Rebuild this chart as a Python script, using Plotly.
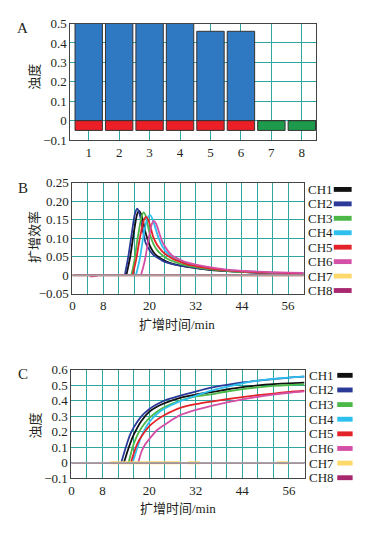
import plotly.graph_objects as go

W, H = 368, 533

# ---------------- data ----------------
channels = [1, 2, 3, 4, 5, 6, 7, 8]
turbidity_A = [0.51, 0.51, 0.50, 0.51, 0.46, 0.46, 0.0, 0.0]
indicator_A = [-0.05, -0.05, -0.05, -0.05, -0.05, -0.05, -0.05, -0.05]
result_A = ["pos", "pos", "pos", "pos", "pos", "pos", "neg", "neg"]

ch_names = ["CH1", "CH2", "CH3", "CH4", "CH5", "CH6", "CH7", "CH8"]
ch_colors = ["#111111", "#2b3a98", "#4cb848", "#2dc0ee", "#e3232a", "#d44fa6", "#fdd86a", "#a8286f"]

# Panel B: amplification efficiency
b_t = {
    "CH1": [14.0, 15, 16, 16.8, 17.3, 18, 19, 20, 21, 22, 24, 26, 28, 32, 36, 40, 44, 48, 52, 56, 60],
    "CH2": [13.6, 14.5, 15.5, 16.2, 16.8, 17.4, 18.2, 19, 20, 21, 22.3, 24, 26, 28, 32, 36, 40, 44, 48, 52, 56, 60],
    "CH3": [15.3, 16, 17, 18, 18.5, 19, 20, 21, 22, 23, 24, 26, 28, 32, 36, 40, 44, 48, 52, 56, 60],
    "CH4": [16.5, 17.5, 18.5, 19.5, 20.2, 20.8, 22.3, 23.5, 25, 27, 30, 32, 36, 40, 44, 48, 52, 56, 60],
    "CH5": [15.6, 16.5, 17.5, 18.5, 19.1, 19.7, 21, 22, 23.2, 24, 26, 27.5, 30, 32, 36, 40, 44, 48, 52, 56, 60],
    "CH6": [4.5, 5.5, 6.5, 7.0, 17.8, 18.8, 19.8, 20.6, 21.1, 21.7, 23.2, 24.5, 25.8, 28.4, 30, 32, 36, 40, 44, 48, 52, 56, 60],
    "CH7": [0, 60],
    "CH8": [0, 60],
}
b_y = {
    "CH1": [0, 0.05, 0.12, 0.165, 0.174, 0.16, 0.115, 0.082, 0.063, 0.052, 0.039, 0.031, 0.026, 0.019, 0.014, 0.011, 0.009, 0.007, 0.006, 0.005, 0.004],
    "CH2": [0, 0.05, 0.12, 0.165, 0.18, 0.168, 0.125, 0.088, 0.068, 0.055, 0.046, 0.036, 0.030, 0.026, 0.02, 0.015, 0.012, 0.009, 0.007, 0.006, 0.005, 0.004],
    "CH3": [0, 0.035, 0.105, 0.16, 0.17, 0.162, 0.115, 0.085, 0.068, 0.057, 0.049, 0.038, 0.031, 0.022, 0.016, 0.012, 0.009, 0.008, 0.006, 0.005, 0.005],
    "CH4": [0, 0.045, 0.11, 0.155, 0.163, 0.152, 0.103, 0.075, 0.056, 0.042, 0.031, 0.026, 0.019, 0.014, 0.011, 0.009, 0.007, 0.006, 0.005],
    "CH5": [0, 0.04, 0.1, 0.148, 0.158, 0.15, 0.103, 0.082, 0.066, 0.058, 0.045, 0.038, 0.029, 0.025, 0.018, 0.013, 0.01, 0.008, 0.007, 0.006, 0.005],
    "CH6": [-0.003, -0.003, -0.002, None, 0, 0.04, 0.1, 0.138, 0.147, 0.14, 0.094, 0.07, 0.054, 0.04, 0.034, 0.029, 0.021, 0.015, 0.012, 0.01, 0.008, 0.007, 0.006],
    "CH7": [0, 0],
    "CH8": [0, 0],
}

# Panel C: turbidity curves
c_t = {
    "CH1": [13.5, 14.5, 15.5, 16, 18, 20, 22, 24, 28, 32, 36, 40, 44, 48, 52, 56, 60],
    "CH2": [12.8, 14, 15, 16, 18, 20, 22, 24, 28, 32, 36, 40, 44, 48, 52, 56, 60],
    "CH3": [14.7, 15.5, 16, 17, 18, 20, 22, 24, 28, 32, 36, 40, 44, 48, 52, 56, 60],
    "CH4": [15.75, 16.5, 17, 18, 20, 22, 24, 28, 32, 36, 40, 44, 48, 52, 56, 60],
    "CH5": [15.3, 16, 17, 18, 20, 22, 24, 28, 32, 36, 40, 44, 48, 52, 56, 60],
    "CH6": [17.2, 18, 19, 20, 22, 24, 26, 28, 32, 36, 40, 44, 48, 52, 56, 60],
    "CH7": [10, 28, 29, 30, 33, 34, 53, 55.6],
    "CH8": [0, 60],
}
c_y = {
    "CH1": [0, 0.08, 0.15, 0.18, 0.27, 0.329, 0.362, 0.385, 0.419, 0.44, 0.456, 0.473, 0.488, 0.499, 0.507, 0.513, 0.517],
    "CH2": [0, 0.1, 0.175, 0.227, 0.30, 0.346, 0.378, 0.402, 0.433, 0.46, 0.485, 0.503, 0.518, 0.53, 0.54, 0.55, 0.556],
    "CH3": [0, 0.08, 0.12, 0.18, 0.225, 0.288, 0.33, 0.36, 0.402, 0.428, 0.442, 0.46, 0.475, 0.487, 0.496, 0.502, 0.506],
    "CH4": [0, 0.06, 0.1, 0.17, 0.262, 0.315, 0.35, 0.398, 0.433, 0.465, 0.49, 0.513, 0.53, 0.541, 0.55, 0.558],
    "CH5": [0, 0.058, 0.125, 0.17, 0.235, 0.277, 0.308, 0.354, 0.378, 0.395, 0.41, 0.424, 0.437, 0.447, 0.457, 0.465],
    "CH6": [0, 0.07, 0.12, 0.152, 0.21, 0.246, 0.28, 0.308, 0.342, 0.367, 0.39, 0.41, 0.426, 0.44, 0.452, 0.461],
    "CH7": [0, 0, None, 0, 0, None, 0, 0],
    "CH8": [0, 0],
}

time_ticks = [0, 8, 20, 32, 44, 56]
time_grid = list(range(0, 61, 4))
yA_ticks = [-0.1, 0, 0.1, 0.2, 0.3, 0.4, 0.5]
yA_text = ["\u22120.1", "0", "0.1", "0.2", "0.3", "0.4", "0.5"]
yB_ticks = [-0.05, 0, 0.05, 0.10, 0.15, 0.20, 0.25]
yB_text = ["\u22120.05", "0", "0.05", "0.10", "0.15", "0.20", "0.25"]
yC_ticks = [-0.1, 0, 0.1, 0.2, 0.3, 0.4, 0.5, 0.6]
yC_text = ["\u22120.1", "0", "0.1", "0.2", "0.3", "0.4", "0.5", "0.6"]

# ---------------- style ----------------
SERIF = "Liberation Serif, Times New Roman, Noto Sans CJK SC, serif"
TXT = "#231f20"
GRID = "#2fa6a4"
FRAME = "#444444"
ZERO = "#a3a3a3"

def px(x):
    return x / W

def py(y):
    return 1 - y / H

fig = go.Figure()

# Panel A bars
fig.add_trace(go.Bar(x=channels, y=turbidity_A, xaxis="x", yaxis="y", width=0.9,
                     marker=dict(color="#2f78c2", line=dict(color="#333333", width=1)),
                     showlegend=False))
res_colors = {"pos": "#ec1f27", "neg": "#1d9a4b"}
fig.add_trace(go.Bar(x=channels, y=indicator_A, xaxis="x", yaxis="y", width=0.9,
                     marker=dict(color=[res_colors[r] for r in result_A], line=dict(color="#333333", width=1)),
                     showlegend=False))

# Panel B and C lines
for name, col in zip(ch_names, ch_colors):
    fig.add_trace(go.Scatter(x=b_t[name], y=b_y[name], xaxis="x2", yaxis="y2", mode="lines",
                             line=dict(color=col, width=1.8, shape="spline", smoothing=0.7),
                             connectgaps=False, showlegend=False, name=name))
for name, col in zip(ch_names, ch_colors):
    w = 3 if name == "CH7" else 1.8
    fig.add_trace(go.Scatter(x=c_t[name], y=c_y[name], xaxis="x3", yaxis="y3", mode="lines",
                             line=dict(color=col, width=w, shape="spline", smoothing=0.7),
                             connectgaps=False, showlegend=False, name=name))

axis_common = dict(showline=True, linecolor=FRAME, linewidth=1, mirror=True, ticks="", ticklen=0,
                   showgrid=True, gridcolor=GRID, gridwidth=1, zeroline=False,
                   tickfont=dict(family=SERIF, size=13, color=TXT))

fig.update_layout(
    width=W, height=H, autosize=False,
    margin=dict(l=0, r=0, t=0, b=0),
    paper_bgcolor="white", plot_bgcolor="white",
    barmode="overlay",
    xaxis=dict(domain=[px(68), px(316)], anchor="y", range=[0.4, 8.48],
               tickvals=channels, ticktext=[str(c) for c in channels], **axis_common),
    yaxis=dict(domain=[py(137), py(17)], anchor="x", range=[-0.1, 0.5],
               tickvals=yA_ticks, ticktext=yA_text, **axis_common),
    xaxis2=dict(domain=[px(70), px(303)], anchor="y2", range=[0, 60],
                tickvals=time_grid, ticktext=[str(t) if t in time_ticks else "" for t in time_grid],
                **axis_common),
    yaxis2=dict(domain=[py(295), py(181)], anchor="x2", range=[-0.05, 0.25],
                tickvals=yB_ticks, ticktext=yB_text, **axis_common),
    xaxis3=dict(domain=[px(69), px(304)], anchor="y3", range=[0, 60],
                tickvals=time_grid, ticktext=[str(t) if t in time_ticks else "" for t in time_grid],
                **axis_common),
    yaxis3=dict(domain=[py(485), py(373.3)], anchor="x3", range=[-0.1, 0.6],
                tickvals=yC_ticks, ticktext=yC_text, **axis_common),
)

shapes = []
# gray zero lines on B and C
for xr, yr in (("x2", "y2"), ("x3", "y3")):
    shapes.append(dict(type="line", xref=xr + " domain", yref=yr, x0=0, x1=1, y0=0, y1=0,
                       line=dict(color=ZERO, width=1.6), layer="above"))

annotations = []
def label(text, x, y, size=13, angle=0, xanchor="center"):
    annotations.append(dict(text=text, x=px(x), y=py(y), xref="paper", yref="paper",
                            showarrow=False, textangle=angle, xanchor=xanchor, yanchor="middle",
                            borderpad=0, font=dict(family=SERIF, size=size, color=TXT)))

label("A", 20, 22, size=15)
label("B", 20, 186, size=15)
label("C", 20, 378, size=15)
label("浊度", 32, 72, angle=-90)
label("扩增效率", 32, 237, angle=-90)
label("浊度", 33, 431, angle=-90)
label("扩增时间/min", 175, 327)
label("扩增时间/min", 176, 516)

# manual legends (text then swatch on the right)
for (y0, step, xt, xs0, xs1) in ((187.7, 14.86, 306.5, 333.5, 351.5), (379.0, 15.05, 308.0, 337.0, 352.5)):
    for i, (name, col) in enumerate(zip(ch_names, ch_colors)):
        yy = y0 + i * step
        label(name, xt, yy, size=13, xanchor="left")
        shapes.append(dict(type="rect", xref="paper", yref="paper",
                           x0=px(xs0), x1=px(xs1), y0=py(yy + 2.5), y1=py(yy - 2.5),
                           fillcolor=col, line=dict(width=0)))

fig.update_layout(shapes=shapes, annotations=annotations)

fig.write_html("out.html", config={"displayModeBar": False},
               post_script="document.body.style.margin='0';document.body.style.overflow='hidden';")
